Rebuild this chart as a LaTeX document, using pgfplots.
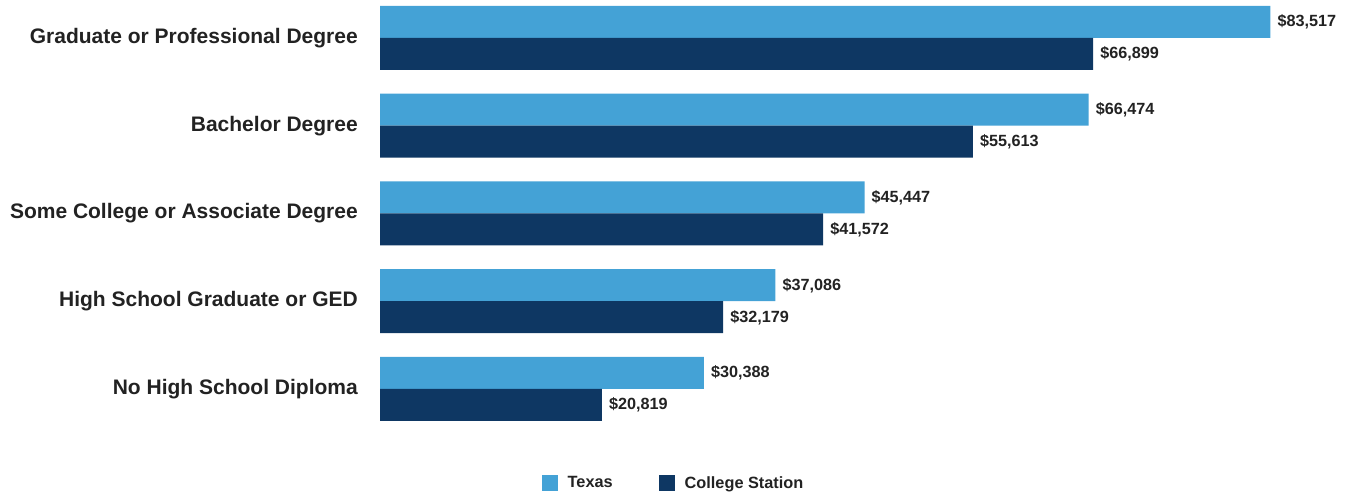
\documentclass[border=0pt]{standalone}
\usepackage{fontspec}
\setmainfont{Liberation Sans}
\usepackage{pgfplots}
\pgfplotsset{compat=1.18}
\definecolor{texas}{RGB}{68,162,214}
\definecolor{cstat}{RGB}{14,55,99}
\definecolor{txt}{RGB}{34,34,34}
\begin{document}
\begin{tikzpicture}
\begin{axis}[
    at={(380pt,499.875pt)}, anchor=north west,
    scale only axis,
    width=968pt, height=438.75pt,
    xbar, bar width=32pt,
    xmin=0, xmax=90800,
    ymin=-0.5, ymax=4.5,
    y dir=reverse,
    axis line style={draw=none},
    xtick=\empty,
    ytick={0,1,2,3,4},
    yticklabels={Graduate or Professional Degree,Bachelor Degree,Some College or Associate Degree,High School Graduate or GED,No High School Diploma},
    major tick length=0pt,
    yticklabel style={font=\fontsize{21}{24}\selectfont\bfseries, text=txt, anchor=east, inner sep=0pt, xshift=-22pt},
    /pgf/number format/assume math mode=true,
    nodes near coords={\$\pgfmathprintnumber[fixed,precision=0,1000 sep={,}]{\pgfplotspointmeta}},
    nodes near coords style={font=\fontsize{16.2}{19}\selectfont\bfseries, text=txt, anchor=west, inner sep=0pt, xshift=7pt},
    legend columns=2,
    legend style={at={(0.3032,-0.114)}, anchor=center, draw=none, fill=none,
        font=\fontsize{16.3}{19}\selectfont\bfseries, text=txt,
        /tikz/every odd column/.append style={column sep=8pt},
        /tikz/every even column/.append style={column sep=44pt}},
    legend image code/.code={\fill[#1] (0pt,-8pt) rectangle (16pt,8pt);},
]
\addplot[fill=texas, draw=none, bar shift=16pt] coordinates {
    (83517,0) (66474,1) (45447,2) (37086,3) (30388,4)
};
\addplot[fill=cstat, draw=none, bar shift=-16pt] coordinates {
    (66899,0) (55613,1) (41572,2) (32179,3) (20819,4)
};
\legend{Texas,College Station}
\end{axis}
\pgfresetboundingbox
\useasboundingbox (0,0) rectangle (1348pt,494pt);
\end{tikzpicture}
\end{document}
